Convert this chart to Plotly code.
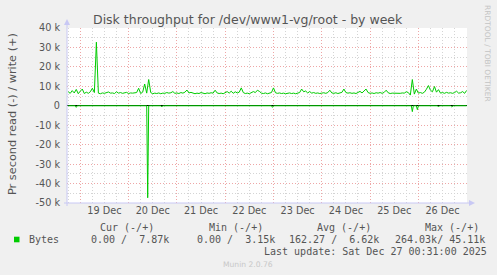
import pandas as pd
import plotly.graph_objects as go

# ---------------- data ----------------
write_start = "2025-12-18 18:00"
write_step = "1h"
# write (+) bytes per second, in thousands, hourly samples
write_k = [7.2, 6.4, 7.8, 6.6, 8.4, 6.2, 7.5, 8.6, 6.3, 7.0,
           6.4, 7.2, 9.0, 6.8, 32.7, 6.5, 6.2, 6.6, 6.4, 6.7,
           7.1, 6.5, 6.6, 6.3, 7.2, 6.5, 6.8, 6.4, 6.6, 6.9,
           6.3, 6.6, 6.5, 6.8, 6.8, 9.0, 6.3, 7.0, 11.2, 6.5,
           13.5, 6.8, 6.2, 6.5, 6.3, 6.6, 6.2, 6.5, 6.4, 6.8,
           6.5, 6.7, 7.3, 6.4, 6.6, 6.3, 6.8, 6.5, 7.0, 8.1,
           6.6, 6.9, 6.4, 6.2, 6.5, 6.3, 6.8, 6.4, 6.2, 6.6,
           6.4, 6.7, 6.5, 8.0, 6.6, 6.3, 6.5, 6.2, 6.6, 7.3,
           6.5, 7.5, 6.4, 7.2, 6.6, 7.0, 9.2, 6.8, 6.3, 6.5,
           6.2, 6.6, 7.3, 6.8, 8.0, 7.4, 6.5, 6.3, 6.6, 6.2,
           6.5, 6.8, 9.2, 6.7, 6.4, 6.6, 6.3, 6.5, 6.2, 6.4,
           6.6, 6.3, 6.5, 6.2, 6.4, 6.8, 8.6, 7.2, 7.6, 6.6,
           7.3, 6.5, 6.8, 6.4, 6.6, 6.3, 6.5, 6.7, 6.4, 6.8,
           8.0, 6.6, 6.4, 6.7, 6.3, 6.6, 6.9, 8.6, 6.8, 6.5,
           6.7, 6.4, 6.6, 6.3, 6.9, 7.4, 6.6, 7.8, 8.6, 6.8,
           6.4, 6.6, 6.3, 6.7, 6.5, 6.8, 6.4, 6.9, 8.0, 6.7,
           6.3, 6.5, 6.4, 6.6, 6.5, 6.4, 6.6, 6.5, 7.2, 6.8,
           5.5, 13.5, 6.0, 8.6, 6.5, 6.8, 6.4, 7.0, 8.5, 10.4,
           8.0, 7.2, 9.9, 7.0, 8.3, 6.5, 6.8, 6.4, 6.9, 6.5,
           6.7, 6.4, 6.8, 7.5, 6.5, 6.7, 7.3, 6.4, 7.9]

# read (-) bytes per second: 30-minute samples, zero except these (thousands)
read_start = "2025-12-18 18:00"
read_end = "2025-12-27 00:00"
read_step = "30min"
read_times = ["2025-12-18 22:00", "2025-12-20 09:30", "2025-12-20 16:30",
              "2025-12-22 23:30", "2025-12-25 21:00", "2025-12-25 23:30",
              "2025-12-26 10:00", "2025-12-26 16:30"]
read_k = [0.8, 47.3, 0.6, 0.8, 3.0, 2.0, 0.6, 0.5]

y_tick_vals = [40000, 30000, 20000, 10000, 0, -10000, -20000, -30000, -40000, -50000]
y_tick_text = ["40 k", "30 k", "20 k", "10 k", "0", "-10 k", "-20 k", "-30 k", "-40 k", "-50 k"]
x_range = ["2025-12-18 17:24", "2025-12-27 00:10"]

title_text = "Disk throughput for /dev/www1-vg/root - by week"
y_title = "Pr second read (-) / write (+)"
legend_headers = ["Cur (-/+)", "Min (-/+)", "Avg (-/+)", "Max (-/+)"]
legend_values = ["0.00 /  7.87k", "0.00 /  3.15k", "162.27 /  6.62k", "264.03k/ 45.11k"]
series_name = "Bytes"
last_update = "Last update: Sat Dec 27 00:31:00 2025"
footer = "Munin 2.0.76"
side_text = "RRDTOOL / TOBI OETIKER"

# ---------------- figure ----------------
w_times = pd.date_range(write_start, periods=len(write_k), freq=write_step)
r_index = pd.date_range(read_start, read_end, freq=read_step)
read_series = pd.Series(0.0, index=r_index)
read_series[pd.to_datetime(read_times)] = read_k

W, H = 497, 275
L, R, T, B = 67, 30, 28, 72
PW, PH = W - L - R, H - T - B


def px(x):
    return (x - L) / PW


def py(y):
    return (H - B - y) / PH


GREEN = "#00cc00"
TXT = "#555555"
SANS = "DejaVu Sans"
MONO = "DejaVu Sans Mono"

fig = go.Figure()
fig.add_trace(go.Scatter(x=read_series.index, y=-read_series.values * 1000, mode="lines",
                         line=dict(color=GREEN, width=1), hoverinfo="skip", showlegend=False))
fig.add_trace(go.Scatter(x=w_times, y=[v * 1000 for v in write_k], mode="lines",
                         line=dict(color=GREEN, width=1), hoverinfo="skip", showlegend=False))

fig.update_layout(
    width=W, height=H,
    margin=dict(l=L, r=R, t=T, b=B, pad=0, autoexpand=False),
    paper_bgcolor="#f0f0f0", plot_bgcolor="#ffffff",
    showlegend=False,
)
fig.update_xaxes(
    type="date", range=x_range, tick0="2025-12-19", dtick=86400000,
    ticklabelmode="period", tickformat="%d %b", ticks="",
    showgrid=True, gridcolor="#eea6a6", griddash="1px,2px", gridwidth=1,
    minor=dict(dtick=21600000, showgrid=True, gridcolor="#d4d4d4", griddash="1px,2px", gridwidth=1),
    showline=False, zeroline=False,
    tickfont=dict(family=SANS, size=9.7, color=TXT),
)
fig.update_yaxes(
    range=[-50000, 40000], tickvals=y_tick_vals, ticktext=y_tick_text, ticks="",
    showgrid=True, gridcolor="#eea6a6", griddash="1px,2px", gridwidth=1,
    minor=dict(dtick=5000, showgrid=True, gridcolor="#d4d4d4", griddash="1px,2px", gridwidth=1),
    zeroline=True, zerolinecolor="#000000", zerolinewidth=1.2,
    showline=False, ticklabelstandoff=6,
    tickfont=dict(family=SANS, size=9.7, color=TXT),
)

AX = "#c8c8f4"
shapes = [
    dict(type="line", xref="paper", yref="paper", x0=px(67), x1=px(67), y0=py(206), y1=py(24),
         line=dict(color=AX, width=1)),
    dict(type="path", xref="paper", yref="paper",
         path=f"M {px(64)} {py(25)} L {px(70)} {py(25)} L {px(67)} {py(19)} Z",
         fillcolor=AX, line=dict(color=AX, width=0)),
    dict(type="line", xref="paper", yref="paper", x0=px(64), x1=px(470), y0=py(203), y1=py(203),
         line=dict(color=AX, width=1)),
    dict(type="path", xref="paper", yref="paper",
         path=f"M {px(469)} {py(200)} L {px(469)} {py(206)} L {px(475)} {py(203)} Z",
         fillcolor=AX, line=dict(color=AX, width=0)),
    dict(type="rect", xref="paper", yref="paper", x0=px(14), x1=px(19.5), y0=py(242.3), y1=py(236.7),
         fillcolor=GREEN, line=dict(width=0)),
]
fig.update_layout(shapes=shapes)

ann = []


def text(x, y, s, font, size, color, xanchor="left", angle=0):
    ann.append(dict(x=px(x), y=py(y), xref="paper", yref="paper", text=s.replace(" ", "\u00a0"),
                    showarrow=False, xanchor=xanchor, yanchor="middle", textangle=angle,
                    font=dict(family=font, size=size, color=color)))


text(248, 19.5, title_text, SANS, 12.5, TXT, xanchor="center")
text(12, 114, y_title, SANS, 11.3, TXT, xanchor="center", angle=-90)
text(488, 53, side_text, SANS, 7.5, "#c4c4c4", xanchor="center", angle=90)
for xh, s in zip([98.3, 206.7, 315, 422.7], legend_headers):
    text(xh, 227.7, s, MONO, 10, TXT)
text(26.7, 239.7, series_name, MONO, 10, TXT)
for xv, s in zip([89.3, 195, 286.7, 392.7], legend_values):
    text(xv, 239.7, s, MONO, 10, TXT)
text(261.7, 251.7, last_update, MONO, 10, TXT)
text(248, 264.5, footer, SANS, 7.6, "#c8c8c8", xanchor="center")
fig.update_layout(annotations=ann)

fig.write_html("out.html")
